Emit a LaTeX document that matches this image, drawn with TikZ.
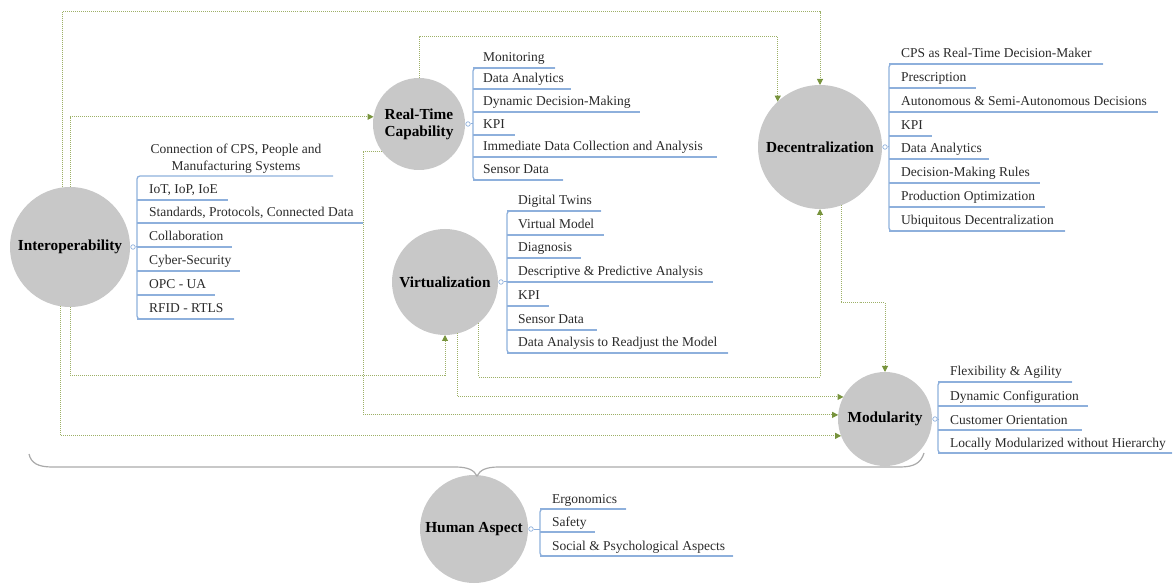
\documentclass[tikz,border=0pt]{standalone}
\usepackage{fontspec}
\setmainfont{Liberation Serif}
\usetikzlibrary{arrows.meta}
\definecolor{hubgray}{HTML}{C8C8C8}
\definecolor{lineblue}{HTML}{8EB0DC}
\definecolor{dotgreen}{HTML}{9DB067}
\definecolor{arrowgreen}{HTML}{77933C}
\definecolor{bracegray}{HTML}{AAAAAA}
\definecolor{txt}{HTML}{2A2A2A}
\begin{document}
\begin{tikzpicture}[x=1pt,y=-1pt,
 hub/.style={circle,fill=hubgray,inner sep=0pt,outer sep=0pt,font=\fontsize{15.3}{17}\selectfont\bfseries,text=black,align=center},
 knob/.style={circle,draw=lineblue,fill=white,line width=0.7pt,inner sep=0pt,minimum size=4.5pt},
 uline/.style={draw=lineblue,line width=1.3pt,rounded corners=3pt},
 itemtext/.style={anchor=base west,inner sep=0pt,font=\fontsize{13.5}{17}\selectfont,text=txt},
 conn/.style={draw=dotgreen,line width=1pt,dash pattern=on 1pt off 1pt,-{Triangle[length=6pt,width=6pt,color=arrowgreen]}},
 brace/.style={draw=bracegray,line width=1.2pt}]
\useasboundingbox (0,0) rectangle (1173,585);

% hubs
\node[hub,minimum size=120pt] (intop) at (70,247) {Interoperability};
\node[hub,minimum size=92pt] (rt) at (419,124) {Real-Time\\Capability};
\node[hub,minimum size=106pt] (virt) at (445,282) {Virtualization};
\node[hub,minimum size=124pt] (decent) at (820,147) {Decentralization};
\node[hub,minimum size=94pt] (modul) at (885,419) {Modularity};
\node[hub,minimum size=108pt] (human) at (474,529) {Human Aspect};

% Interoperability list
\node[knob] (intop-k) at ([xshift=3pt]intop.east) {};
\draw[lineblue,line width=1pt] (intop-k) -- (137,247);
\node[anchor=south,inner sep=0pt,align=center,font=\fontsize{13.5}{17}\selectfont,text=txt] (intop-c) at (236,174) {Connection of CPS, People and\\Manufacturing Systems};
\draw[uline] (333,176) -- (137,176) -- (137,319) -- (234,319);
\foreach \y/\e/\t [count=\i] in {200/228/{IoT, IoP, IoE},223/363/{Standards, Protocols, Connected Data},247/232/{Collaboration},271/240/{Cyber-Security},295/215/{OPC - UA},319/234/{RFID - RTLS}}{
  \draw[uline] (137,\y) -- (\e,\y);
  \node[itemtext] (intop-i\i) at (149,\y-6) {\t};
}

% Real-Time list
\node[knob] (rt-k) at ([xshift=3pt]rt.east) {};
\draw[lineblue,line width=1pt] (rt-k) -- (473,124);
\draw[uline] (555,68) -- (473,68) -- (473,180) -- (563,180);
\foreach \y/\e/\t [count=\i] in {68/555/{Monitoring},89/571/{Data Analytics},112/640/{Dynamic Decision-Making},135/515/{KPI},157/717/{Immediate Data Collection and Analysis},180/563/{Sensor Data}}{
  \draw[uline] (473,\y) -- (\e,\y);
  \node[itemtext] (rt-i\i) at (483,\y-6) {\t};
}

% Virtualization list
\node[knob] (virt-k) at ([xshift=3pt]virt.east) {};
\draw[lineblue,line width=1pt] (virt-k) -- (507,282);
\draw[uline] (601,211) -- (507,211) -- (507,353) -- (728,353);
\foreach \y/\e/\t [count=\i] in {211/601/{Digital Twins},235/604/{Virtual Model},258/581/{Diagnosis},282/713/{Descriptive \& Predictive Analysis},306/549/{KPI},330/597/{Sensor Data},353/728/{Data Analysis to Readjust the Model}}{
  \draw[uline] (507,\y) -- (\e,\y);
  \node[itemtext] (virt-i\i) at (518,\y-6) {\t};
}

% Decentralization list
\node[knob] (decent-k) at ([xshift=3pt]decent.east) {};
\draw[lineblue,line width=1pt] (decent-k) -- (889,147);
\draw[uline] (1103,64) -- (889,64) -- (889,231) -- (1065,231);
\foreach \y/\e/\t [count=\i] in {64/1103/{CPS as Real-Time Decision-Maker},88/976/{Prescription},112/1158/{Autonomous \& Semi-Autonomous Decisions},136/932/{KPI},159/989/{Data Analytics},183/1040/{Decision-Making Rules},207/1045/{Production Optimization},231/1065/{Ubiquitous Decentralization}}{
  \draw[uline] (889,\y) -- (\e,\y);
  \node[itemtext] (decent-i\i) at (901,\y-6) {\t};
}

% Modularity list
\node[knob] (modul-k) at ([xshift=3pt]modul.east) {};
\draw[lineblue,line width=1pt] (modul-k) -- (938,419);
\draw[uline] (1072,382) -- (938,382) -- (938,453) -- (1172,453);
\foreach \y/\e/\t [count=\i] in {382/1072/{Flexibility \& Agility},406/1088/{Dynamic Configuration},430/1082/{Customer Orientation},453/1172/{Locally Modularized without Hierarchy}}{
  \draw[uline] (938,\y) -- (\e,\y);
  \node[itemtext] (modul-i\i) at (950,\y-6) {\t};
}

% Human Aspect list
\node[knob] (human-k) at ([xshift=3pt]human.east) {};
\draw[lineblue,line width=1pt] (human-k) -- (540,529);
\draw[uline] (626,509) -- (540,509) -- (540,556) -- (733,556);
\foreach \y/\e/\t [count=\i] in {509/626/{Ergonomics},532/595/{Safety},556/733/{Social \& Psychological Aspects}}{
  \draw[uline] (540,\y) -- (\e,\y);
  \node[itemtext] (human-i\i) at (552,\y-6) {\t};
}

% turning-point coordinates
\coordinate (Y1) at (300,12);
\coordinate (Y4) at (200,375);
\coordinate (Y5) at (600,37);
\coordinate (X6) at (363,300);
\coordinate (Y8) at (600,377);
\coordinate (Y9) at (860,303);

% dotted connectors
\draw[conn] (intop.97.7) |- (Y1) -| (decent.north);
\draw[conn] (intop.261.4) |- (modul.201.2);
\draw[conn] (intop.north) |- (rt.171.25);
\draw[conn] (intop.south) |- (Y4) -| (virt.south);
\draw[conn] (rt.north) |- (Y5) -| (decent.133.9);
\draw[conn] (rt.217.5) -| (X6) |- (modul.175.1);
\draw[conn] (virt.284.2) |- (modul.152.1);
\draw[conn] (virt.309.8) |- (Y8) -| (decent.south);
\draw[conn] (decent.290.8) |- (Y9) -| (modul.north);

% brace
\draw[brace] (29,454) .. controls (31,463) and (38,467) .. (52,467) -- (455,467) .. controls (468,467) and (474,470) .. (477,476) .. controls (480,470) and (486,467) .. (499,467) -- (900,467) .. controls (914,467) and (921,463) .. (924,453);
\end{tikzpicture}
\end{document}
